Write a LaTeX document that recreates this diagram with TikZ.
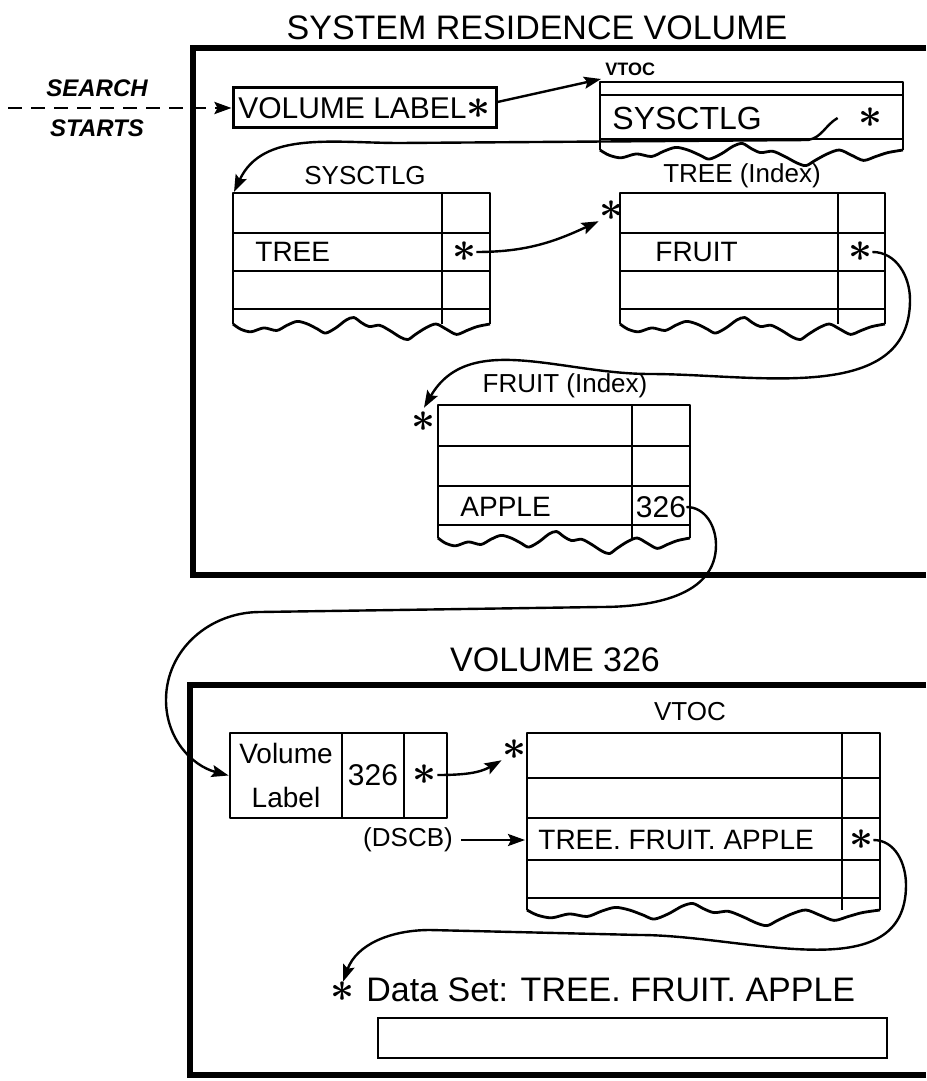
\documentclass[tikz,border=0pt]{standalone}
\usepackage{amsmath}
\usepackage{fontspec}
\setmainfont{Liberation Sans}
\usetikzlibrary{arrows.meta,positioning}

\newcommand{\pstar}{\scalebox{1.45}{$\boldsymbol{\ast}$}}
% torn lower edge of a record, from (#1,#3) to (#2,#3)
\newcommand{\tornedge}[3]{%
  \begin{scope}[shift={(#1,#3)},xscale={(#2-#1)/100},yscale=1.3]
    \draw[tbl] plot[smooth,tension=.5] coordinates {(0,0) (3,-4) (7,-6) (12,-3) (17,-5) (21,-1) (25,2) (29,0) (33,-4) (36,-7) (40,-3) (44,3) (47,5) (50,1) (53,-2) (57,-1) (61,-5) (65,-10) (68,-12) (71,-8) (75,-3) (79,0) (83,-4) (87,-8) (91,-5) (95,-2) (100,0)};
  \end{scope}}
% left, right, divider, top, row lines, tear
\newcommand{\rectable}[6]{%
  \draw[tbl] (#1,#6) |- (#2,#4) -- (#2,#6);
  \draw[tbl] (#3,#4) -- (#3,#6);
  \foreach \ry in {#5} {\draw[tbl] (#1,\ry) -- (#2,\ry);}
  \tornedge{#1}{#2}{#6}}

\begin{document}
\begin{tikzpicture}[x=0.5pt,y=0.5pt,>={Stealth[length=8.5pt,width=6pt,inset=1.5pt]},
  frame/.style={line width=3pt},
  tbl/.style={line width=1.4pt,line join=round},
  conn/.style={line width=1.2pt,->},
  txt/.style={inner sep=0pt,font=\fontsize{14}{16}\selectfont},
  head/.style={inner sep=0pt,font=\fontsize{13}{15}\selectfont},
  voltitle/.style={inner sep=0pt,font=\fontsize{17}{19}\selectfont},
  note/.style={inner sep=0pt,font=\bfseries\itshape\fontsize{12}{14}\selectfont}]
\useasboundingbox (0,0) rectangle (926,-1081);

% system residence volume
\node[voltitle] (sysres) at (537,-28) {SYSTEM RESIDENCE VOLUME};
\draw[frame] (926,-48) -- (193,-48) -- (193,-575) -- (926,-575);
\node[note] (search) at (97,-88) {SEARCH};
\node[note] (starts) at (97,-128) {STARTS};
\coordinate (entry) at (8,-108);
\node[draw,line width=1.5pt,inner sep=0pt,minimum width=131.5pt,minimum height=20pt,font=\fontsize{15}{17}\selectfont] (vollabel) at (364.5,-108) {VOLUME LABEL\pstar};
\draw[conn,line width=1.4pt,dash pattern=on 7pt off 4.5pt] (entry) -- (vollabel);

\node[inner sep=0pt,anchor=south west,font=\bfseries\fontsize{9}{10}\selectfont] (vtoclbl) at (605,-76) {VTOC};
\coordinate (vtoc) at (601,-79);
\rectable{600}{903}{600}{-82}{-95,-139}{-150}
\node[inner sep=0pt,anchor=west,font=\fontsize{16}{18}\selectfont] (vtocsys) at (612,-118) {SYSCTLG};
\node[txt] (vstar) at (870,-118) {\pstar};
\draw[conn] ([yshift=3pt]vollabel.east) -- (vtoc);

\node[head] (syshead) at (365,-176) {SYSCTLG};
\rectable{233}{490}{442}{-193}{-233,-271,-309}{-324}
\node[txt,anchor=west] (tree) at (255,-252) {TREE};
\node[txt] (treestar) at (464,-252) {\pstar};
\coordinate (systab) at (234,-192);
\coordinate (bend1) at (808,-140);
\coordinate (bend2) at (400,-143);
\draw[conn] ([xshift=-10pt]vstar.west) to[out=210,in=10] (bend1) -- (bend2) to[out=180,in=65] (systab);

\node[head] (treehead) at (742,-176) {TREE (Index)};
\rectable{620}{885}{838}{-193}{-233,-271,-309}{-324}
\node[txt,anchor=west] (fruit) at (655,-252) {FRUIT};
\node[txt] (fruitstar) at (860,-252) {\pstar};
\node[txt] (treeptr) at (611,-211) {\pstar};
\draw[conn] (treestar.east) to[out=0,in=205] (treeptr.south west);

\node[head] (fruithead) at (565,-386) {FRUIT (Index)};
\rectable{438}{690}{632}{-405}{-446,-486,-525}{-538}
\node[txt,anchor=west] (apple) at (460,-507) {APPLE};
\node[txt,font=\fontsize{15}{17}\selectfont] (vol326) at (661,-507) {326};
\node[txt] (fruitptr) at (424,-422) {\pstar};
\coordinate (loop1) at (910,-300);
\coordinate (loop1b) at (650,-374);
\draw[conn] (fruitstar.east) to[out=0,in=90] (loop1) to[out=270,in=0] (loop1b) to[out=180,in=60] ([yshift=2pt]fruitptr.north);

% volume 326
\node[voltitle] (voltwo) at (555,-660) {VOLUME 326};
\draw[frame] (926,-685) -- (190,-685) -- (190,-1075) -- (926,-1075);
\node[draw,tbl,inner sep=0pt,minimum width=108.5pt,minimum height=42.5pt] (vlbox) at (338.5,-775.5) {};
\draw[tbl] (342,-733) -- (342,-818);
\draw[tbl] (404,-733) -- (404,-818);
\node[txt,align=center,font=\fontsize{14}{22}\selectfont] (vltext) at (286,-775) {Volume\\Label};
\node[txt,font=\fontsize{15}{17}\selectfont] (vl326) at (373,-775) {326};
\node[txt] (vlstar) at (425,-775) {\pstar};
\node[txt] (vtocptr) at (514,-750) {\pstar};
\draw[conn] (vlstar.east) to[out=0,in=210] (vtocptr.south west);
\coordinate (drop1) at (716,-545);
\coordinate (drop2) at (600,-607);
\coordinate (drop3) at (260,-612);
\coordinate (drop4) at (166,-700);
\draw[conn] (vol326.east) to[out=0,in=90] (drop1) to[out=270,in=0] (drop2) -- (drop3) to[out=180,in=90] (drop4) to[out=270,in=165] (vlbox.west);

\node[head] (vtochead) at (690,-712) {VTOC};
\rectable{527}{880}{842}{-733}{-778,-818,-860,-898}{-910}
\node[txt,anchor=west] (dsname) at (538,-840) {TREE. FRUIT. APPLE};
\node[txt] (dsptr) at (861,-840) {\pstar};
\node[txt,font=\fontsize{13}{15}\selectfont] (dscb) at (408,-840) {(DSCB)};
\coordinate (dsrow) at (525,-840);
\draw[conn] ([xshift=4pt]dscb.east) -- (dsrow);

\node[txt,font=\fontsize{15}{17}\selectfont] (dsstar) at (343,-992) {\pstar};
\node[inner sep=0pt,anchor=west,font=\fontsize{17}{19}\selectfont] (dsline) at (366,-990) {Data Set: TREE. FRUIT. APPLE};
\node[draw,line width=1.4pt,inner sep=0pt,minimum width=254.5pt,minimum height=20pt] (dsbox) at (632.5,-1038) {};
\coordinate (loop2) at (906,-885);
\coordinate (loop2b) at (640,-935);
\coordinate (loop2c) at (430,-930);
\draw[conn] (dsptr.east) to[out=0,in=90] (loop2) to[out=270,in=0] (loop2b) -- (loop2c) to[out=180,in=70] (dsstar.north);
\end{tikzpicture}
\end{document}
